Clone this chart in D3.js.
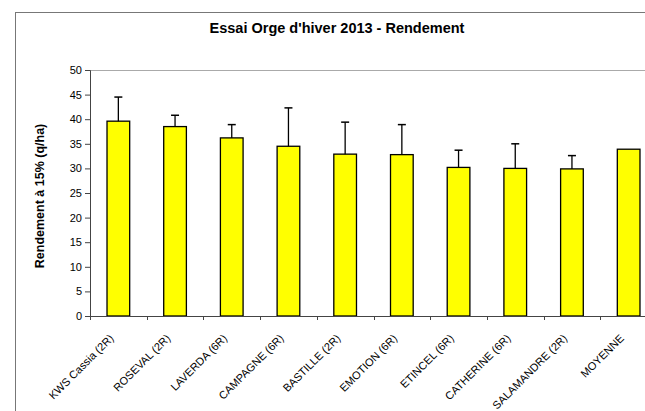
<!DOCTYPE html>
<html>
<head>
<meta charset="utf-8">
<script src="https://cdnjs.cloudflare.com/ajax/libs/d3/7.8.5/d3.min.js"></script>
<style>
  body { margin: 0; background: #fff; }
  text { font-family: "Liberation Sans", Arial, sans-serif; }
</style>
</head>
<body>
<script>
var width = 645,
    height = 411;

var categories = ["KWS Cassia (2R)", "ROSEVAL (2R)", "LAVERDA (6R)", "CAMPAGNE (6R)",
    "BASTILLE (2R)", "EMOTION (6R)", "ETINCEL (6R)", "CATHERINE (6R)",
    "SALAMANDRE (2R)", "MOYENNE"];
var rendement = [39.6, 38.5, 36.2, 34.5, 32.9, 32.8, 30.2, 30.0, 29.9, 33.9];
var ecart = [4.9, 2.3, 2.7, 7.8, 6.5, 6.1, 3.5, 5.0, 2.7, null];
var yTicks = [0, 5, 10, 15, 20, 25, 30, 35, 40, 45, 50];

var title = "Essai Orge d'hiver 2013 - Rendement";
var yTitle = "Rendement à 15% (q/ha)";

var plot = {left: 90, top: 70, right: 657, bottom: 316};

window.onload = function() {
    var svg = d3.select("body")
        .append("svg")
        .attr("width", width)
        .attr("height", height);

    // cadre du graphique
    svg.append("rect")
        .attr("x", 15.5)
        .attr("y", 12.5)
        .attr("width", 700)
        .attr("height", 500)
        .attr("fill", "#fff")
        .attr("stroke", "#777")
        .attr("stroke-width", 1);

    var x = d3.scaleBand()
        .domain(categories)
        .range([plot.left, plot.right])
        .paddingInner(0.6)
        .paddingOuter(0.3);

    var y = d3.scaleLinear()
        .domain([0, 50])
        .range([plot.bottom, plot.top]);

    // bord haut de la zone de tracé
    svg.append("line")
        .attr("x1", plot.left).attr("x2", plot.right)
        .attr("y1", plot.top + 0.5).attr("y2", plot.top + 0.5)
        .attr("stroke", "#aaa");

    svg.append("text")
        .attr("x", 337)
        .attr("y", 33)
        .attr("text-anchor", "middle")
        .style("font-size", "14.5px")
        .style("font-weight", "bold")
        .text(title);

    svg.append("text")
        .attr("transform", "translate(44,196) rotate(-90)")
        .attr("text-anchor", "middle")
        .style("font-size", "12.5px")
        .style("font-weight", "bold")
        .text(yTitle);

    // axe Y
    var yAxis = svg.append("g")
        .attr("transform", "translate(" + plot.left + ",0)")
        .call(d3.axisLeft(y).tickValues(yTicks).tickSize(5).tickPadding(3));
    yAxis.selectAll("text").style("font-size", "11px").attr("fill", "#000");
    yAxis.selectAll("line, path").attr("stroke", "#444");

    // barres
    svg.append("g").selectAll("rect")
        .data(categories)
        .enter()
        .append("rect")
        .attr("x", function(d) { return x(d); })
        .attr("y", function(d, i) { return y(rendement[i]); })
        .attr("width", x.bandwidth())
        .attr("height", function(d, i) { return y(0) - y(rendement[i]); })
        .attr("fill", "#ffff00")
        .attr("stroke", "#000")
        .attr("stroke-width", 1.3);

    // barres d'erreur (seulement vers le haut)
    var err = svg.append("g")
        .selectAll("g")
        .data(categories.filter(function(d, i) { return ecart[i] != null; }))
        .enter()
        .append("g");
    err.append("line")
        .attr("x1", function(d) { return x(d) + x.bandwidth() / 2; })
        .attr("x2", function(d) { return x(d) + x.bandwidth() / 2; })
        .attr("y1", function(d) { var i = categories.indexOf(d); return y(rendement[i]); })
        .attr("y2", function(d) { var i = categories.indexOf(d); return y(rendement[i] + ecart[i]); })
        .attr("stroke", "#000")
        .attr("stroke-width", 1.3);
    err.append("line")
        .attr("x1", function(d) { return x(d) + x.bandwidth() / 2 - 4; })
        .attr("x2", function(d) { return x(d) + x.bandwidth() / 2 + 4; })
        .attr("y1", function(d) { var i = categories.indexOf(d); return y(rendement[i] + ecart[i]); })
        .attr("y2", function(d) { var i = categories.indexOf(d); return y(rendement[i] + ecart[i]); })
        .attr("stroke", "#000")
        .attr("stroke-width", 1.5);

    // axe X
    var step = x.step();
    var bounds = d3.range(categories.length + 1).map(function(i) { return plot.left + i * step; });
    var xAxis = svg.append("g");
    xAxis.append("line")
        .attr("x1", plot.left).attr("x2", plot.right)
        .attr("y1", plot.bottom + 0.5).attr("y2", plot.bottom + 0.5)
        .attr("stroke", "#444");
    xAxis.selectAll(".tick")
        .data(bounds)
        .enter()
        .append("line")
        .attr("x1", function(d) { return Math.round(d) + 0.5; })
        .attr("x2", function(d) { return Math.round(d) + 0.5; })
        .attr("y1", plot.bottom)
        .attr("y2", plot.bottom + 4)
        .attr("stroke", "#444");

    xAxis.selectAll(".lbl")
        .data(categories)
        .enter()
        .append("text")
        .attr("transform", function(d) {
            return "translate(" + (x(d) + x.bandwidth() / 2 - 4) + ",339) rotate(-45)";
        })
        .attr("text-anchor", "end")
        .style("font-size", "11px")
        .text(function(d) { return d; });
}
</script>
</body>
</html>
